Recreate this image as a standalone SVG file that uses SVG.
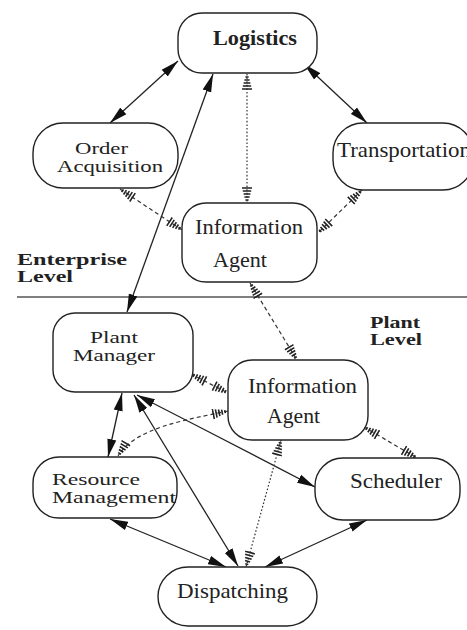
<svg xmlns="http://www.w3.org/2000/svg" width="467" height="630" viewBox="0 0 467 630">
<style>
.box{fill:#fff;stroke:#222;stroke-width:1.4}
.t{font-family:"Liberation Serif","Times New Roman",serif;font-size:21px;fill:#222}
.s{font-size:17px}
.lbl{font-family:"Liberation Serif","Times New Roman",serif;font-size:16px;font-weight:bold;fill:#222}
.solid{fill:none;stroke:#222;stroke-width:1.3;marker-start:url(#arr);marker-end:url(#arr)}
.dash{fill:none;stroke:#333;stroke-width:1.2;stroke-dasharray:4 3;marker-start:url(#hat);marker-end:url(#hat)}
.dot{fill:none;stroke:#333;stroke-width:1.2;stroke-dasharray:1.6 2;marker-start:url(#hat);marker-end:url(#hat)}
</style>
<defs>
<marker id="arr" markerUnits="userSpaceOnUse" viewBox="0 -5 18 10" markerWidth="18" markerHeight="10" refX="18" refY="0" orient="auto-start-reverse">
<path d="M0,-4.5 L18,0 L0,4.5 z" fill="#111"/>
</marker>
<marker id="hat" markerUnits="userSpaceOnUse" viewBox="0 -6 16 12" markerWidth="16" markerHeight="12" refX="16" refY="0" orient="auto-start-reverse">
<path d="M1,-5 V5 M4,-4.2 V4.2 M7,-3.4 V3.4 M10,-2.6 V2.6 M13,-1.6 V1.6" stroke="#222" stroke-width="1.6" fill="none"/>
</marker>
</defs>

<line x1="17" y1="297" x2="467" y2="297" stroke="#555" stroke-width="1.5"/>
<text class="lbl" x="17" y="265" textLength="110" lengthAdjust="spacingAndGlyphs">Enterprise</text>
<text class="lbl" x="17" y="282" textLength="56" lengthAdjust="spacingAndGlyphs">Level</text>
<text class="lbl" x="370" y="328" textLength="50" lengthAdjust="spacingAndGlyphs">Plant</text>
<text class="lbl" x="370" y="345" textLength="52" lengthAdjust="spacingAndGlyphs">Level</text>

<g id="connectors">
<line class="solid" x1="110" y1="123" x2="178" y2="61"/>
<line class="solid" x1="304" y1="64" x2="367" y2="123"/>
<line class="dot" x1="247" y1="74" x2="247" y2="203"/>
<line class="dash" x1="120" y1="189" x2="182" y2="230"/>
<line class="dash" x1="362" y1="190" x2="318" y2="233"/>
<line class="solid" x1="213" y1="74" x2="127" y2="312"/>
<line class="dash" x1="250" y1="283" x2="297" y2="360"/>
<line class="dash" x1="191" y1="374" x2="228" y2="393"/>
<path class="dash" d="M228,411 C185,420 135,428 118,456"/>
<line class="solid" x1="122" y1="393" x2="108" y2="457"/>
<path class="solid" d="M137,395 Q225,440 315,487"/>
<line class="solid" x1="134" y1="395" x2="238" y2="566"/>
<line class="solid" x1="110" y1="519" x2="226" y2="567"/>
<line class="solid" x1="367" y1="520" x2="265" y2="567"/>
<line class="dot" x1="281" y1="440" x2="246" y2="567"/>
<line class="dash" x1="364" y1="427" x2="417" y2="458"/>
</g>

<g id="logistics"><rect class="box" x="178" y="13" width="139" height="60" rx="24"/><text class="t" x="213" y="45" textLength="84" lengthAdjust="spacingAndGlyphs" font-weight="bold">Logistics</text></g>
<g id="order-acquisition"><rect class="box" x="33" y="123" width="145" height="65" rx="30"/><text class="t s" x="75" y="154" textLength="53" lengthAdjust="spacingAndGlyphs">Order</text><text class="t s" x="57" y="172" textLength="106" lengthAdjust="spacingAndGlyphs">Acquisition</text></g>
<g id="transportation"><rect class="box" x="333" y="123" width="140" height="67" rx="30"/><text class="t" x="337" y="157" textLength="134" lengthAdjust="spacingAndGlyphs">Transportation</text></g>
<g id="info-enterprise"><rect class="box" x="182" y="203" width="135" height="79" rx="24"/><text class="t" x="195" y="234" textLength="108" lengthAdjust="spacingAndGlyphs">Information</text><text class="t" x="213" y="267" textLength="54" lengthAdjust="spacingAndGlyphs">Agent</text></g>
<g id="plant-manager"><rect class="box" x="53" y="313" width="140" height="79" rx="22"/><text class="t s" x="90" y="343" textLength="48" lengthAdjust="spacingAndGlyphs">Plant</text><text class="t s" x="73" y="361" textLength="82" lengthAdjust="spacingAndGlyphs">Manager</text></g>
<g id="info-plant"><rect class="box" x="228" y="360" width="140" height="80" rx="24"/><text class="t" x="248" y="393" textLength="109" lengthAdjust="spacingAndGlyphs">Information</text><text class="t" x="267" y="423" textLength="53" lengthAdjust="spacingAndGlyphs">Agent</text></g>
<g id="resource-management"><rect class="box" x="33" y="457" width="144" height="61" rx="26"/><text class="t s" x="52" y="485" textLength="88" lengthAdjust="spacingAndGlyphs">Resource</text><text class="t s" x="52" y="503" textLength="124" lengthAdjust="spacingAndGlyphs">Management</text></g>
<g id="scheduler"><rect class="box" x="315" y="458" width="145" height="62" rx="28"/><text class="t" x="350" y="488" textLength="92" lengthAdjust="spacingAndGlyphs">Scheduler</text></g>
<g id="dispatching"><rect class="box" x="158" y="567" width="159" height="59" rx="30"/><text class="t" x="177" y="598" textLength="111" lengthAdjust="spacingAndGlyphs">Dispatching</text></g>
</svg>
